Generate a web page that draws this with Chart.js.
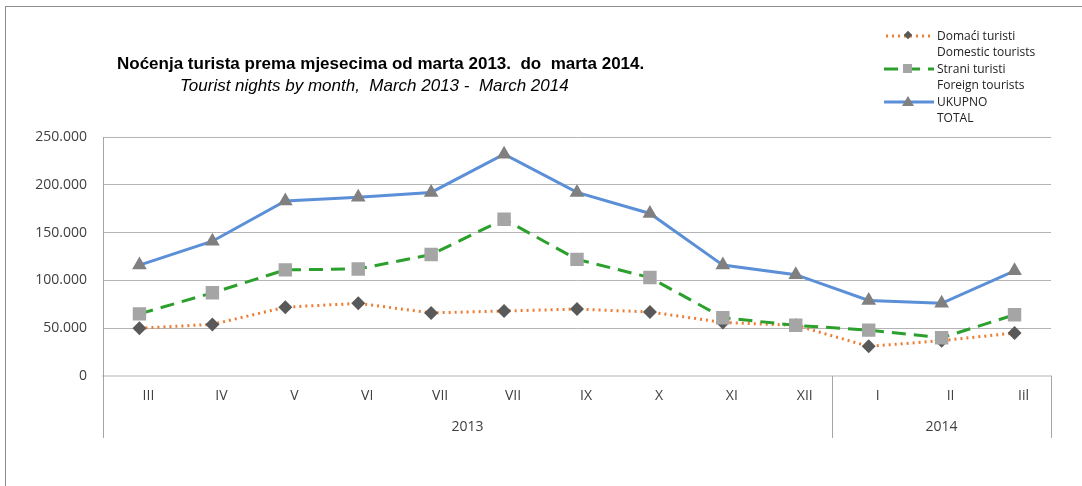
<!DOCTYPE html>
<html>
<head>
<meta charset="utf-8">
<script src="https://cdn.jsdelivr.net/npm/chart.js@4/dist/chart.umd.min.js"></script>
<style>
  html, body { margin: 0; padding: 0; background: #fff; }
  body { width: 1082px; height: 486px; position: relative; overflow: hidden; font-family: "Open Sans", "Noto Sans", sans-serif; }
  .frame { position: absolute; left: 5px; top: 6px; width: 1100px; height: 500px; border-left: 1px solid #8c8c8c; border-top: 1px solid #8c8c8c; box-sizing: border-box; }
  .chart-box { position: absolute; left: 0; top: 0; width: 1082px; height: 486px; }
  .title { position: absolute; left: 117px; top: 54px; font-size: 17px; font-weight: bold; color: #000; white-space: pre; font-family: "Liberation Sans Narrow", "Liberation Sans", sans-serif; }
  .subtitle { position: absolute; left: 180px; top: 76px; font-size: 17px; font-style: italic; color: #000; white-space: pre; font-family: "Liberation Sans Narrow", "Liberation Sans", sans-serif; }
  .legend { position: absolute; left: 884px; top: 28px; font-size: 12px; color: #222; line-height: 16px; }
  .legend .item { position: relative; padding-left: 53px; height: 33px; }
  .legend svg { position: absolute; left: 0; top: 1px; }
</style>
</head>
<body>
<div class="chart-box"><canvas id="chart" width="1082" height="486"></canvas></div>
<div class="frame"></div>
<div class="title">Noćenja turista prema mjesecima od marta 2013.  do  marta 2014.</div>
<div class="subtitle">Tourist nights by month,  March 2013 -  March 2014</div>
<div class="legend">
  <div class="item">
    <svg width="50" height="14"><line x1="2" y1="7" x2="48" y2="7" stroke="#ed7d31" stroke-width="3" stroke-dasharray="2,4"/><rect x="21" y="3" width="6" height="6" fill="#595959" transform="rotate(45 24 6)"/></svg>
    Domaći turisti<br>Domestic tourists
  </div>
  <div class="item">
    <svg width="50" height="14"><line x1="0" y1="7" x2="50" y2="7" stroke="#2ca02c" stroke-width="3" stroke-dasharray="14,8"/><rect x="19" y="2" width="9" height="9" fill="#a5a5a5"/></svg>
    Strani turisti<br>Foreign tourists
  </div>
  <div class="item">
    <svg width="50" height="14"><line x1="0" y1="7" x2="50" y2="7" stroke="#5b8fd8" stroke-width="3"/><polygon points="24,1 30,11 18,11" fill="#808080"/></svg>
    UKUPNO<br>TOTAL
  </div>
</div>
<script>
// months March 2013 - March 2014
const months = ['III', 'IV', 'V', 'VI', 'VII', 'VII', 'IX', 'X', 'XI', 'XII', 'I', 'II', 'Iil'];
const years = ['2013', '2014'];
const yearSpan = [10, 3]; // number of months in each year group

const domestic = [50000, 54000, 72000, 76000, 66000, 68000, 70000, 67000, 56000, 53000, 31000, 37000, 45000];
const foreign = [65000, 87000, 111000, 112000, 127000, 164000, 122000, 103000, 61000, 53000, 48000, 40000, 64000];
const total = [116000, 141000, 183000, 187000, 192000, 232000, 192000, 170000, 116000, 106000, 79000, 76000, 110000];

const yTicks = [0, 50000, 100000, 150000, 200000, 250000];

function fmt(v) {
  if (v === 0) return '0';
  return v.toString().replace(/\B(?=(\d{3})+(?!\d))/g, '.');
}

// year groups and divider lines under the month labels
const groupAxis = {
  id: 'groupAxis',
  afterDraw(chart) {
    const ctx = chart.ctx;
    const x = chart.scales.x;
    const area = chart.chartArea;
    const half = (x.getPixelForValue(1) - x.getPixelForValue(0)) / 2;
    ctx.save();
    ctx.strokeStyle = '#a6a6a6';
    ctx.lineWidth = 1;
    ctx.fillStyle = '#404040';
    ctx.font = '14px "Open Sans", "Noto Sans", sans-serif';
    ctx.textAlign = 'center';
    ctx.textBaseline = 'middle';
    let start = 0;
    const bottom = area.bottom + 62;
    let left = x.getPixelForValue(0) - half;
    ctx.beginPath();
    ctx.moveTo(Math.round(left) + 0.5, area.bottom);
    ctx.lineTo(Math.round(left) + 0.5, bottom);
    ctx.stroke();
    for (let i = 0; i < years.length; i++) {
      const end = start + yearSpan[i] - 1;
      const l = x.getPixelForValue(start) - half;
      const r = x.getPixelForValue(end) + half;
      ctx.beginPath();
      ctx.moveTo(Math.round(r) + 0.5, area.bottom);
      ctx.lineTo(Math.round(r) + 0.5, bottom);
      ctx.stroke();
      ctx.fillText(years[i], (l + r) / 2, area.bottom + 51);
      start = end + 1;
    }
    ctx.restore();
  }
};

const data = {
  labels: months,
  datasets: [
    {
      label: 'Domaći turisti',
      data: domestic,
      borderColor: '#ed7d31',
      borderWidth: 3,
      borderDash: [2, 4],
      pointStyle: 'rectRot',
      pointRadius: 7,
      pointBackgroundColor: '#595959',
      pointBorderColor: '#595959',
      pointBorderWidth: 0,
      order: 3,
    },
    {
      label: 'Strani turisti',
      data: foreign,
      borderColor: '#2ca02c',
      borderWidth: 3,
      borderDash: [14, 8],
      pointStyle: 'rect',
      pointRadius: 9.5,
      pointBackgroundColor: '#a5a5a5',
      pointBorderColor: '#a5a5a5',
      pointBorderWidth: 0,
      order: 2,
    },
    {
      label: 'UKUPNO',
      data: total,
      borderColor: '#5b8fd8',
      borderWidth: 3,
      pointStyle: 'triangle',
      pointRadius: 8.5,
      pointBackgroundColor: '#808080',
      pointBorderColor: '#808080',
      pointBorderWidth: 0,
      order: 1,
    },
  ]
};

const config = {
  type: 'line',
  data: data,
  plugins: [groupAxis],
  options: {
    animation: false,
    responsive: false,
    tension: 0,
    layout: { padding: { left: 0, top: 137, right: 31, bottom: 0 } },
    plugins: {
      legend: { display: false },
      title: { display: false },
      tooltip: { enabled: false }
    },
    scales: {
      x: {
        offset: true,
        afterFit: (s) => { s.height = 110; },
        grid: { display: false, drawTicks: false },
        border: { display: true, color: '#d9d9d9', width: 2 },
        ticks: {
          padding: 12,
          labelOffset: 9,
          color: '#404040',
          font: { size: 14, family: '"Open Sans", "Noto Sans", sans-serif' },
          maxRotation: 0,
          autoSkip: false
        }
      },
      y: {
        min: 0,
        max: 250000,
        afterFit: (s) => { s.width = 103; },
        afterBuildTicks: (s) => { s.ticks = yTicks.map(v => ({ value: v })); },
        grid: { color: '#b4b4b4', drawTicks: false, lineWidth: 1 },
        border: { display: true, color: '#a6a6a6' },
        ticks: {
          padding: 16,
          color: '#404040',
          font: { size: 14, family: '"Open Sans", "Noto Sans", sans-serif' },
          callback: (v) => fmt(v)
        }
      }
    }
  }
};

new Chart(document.getElementById('chart'), config);
</script>
</body>
</html>
